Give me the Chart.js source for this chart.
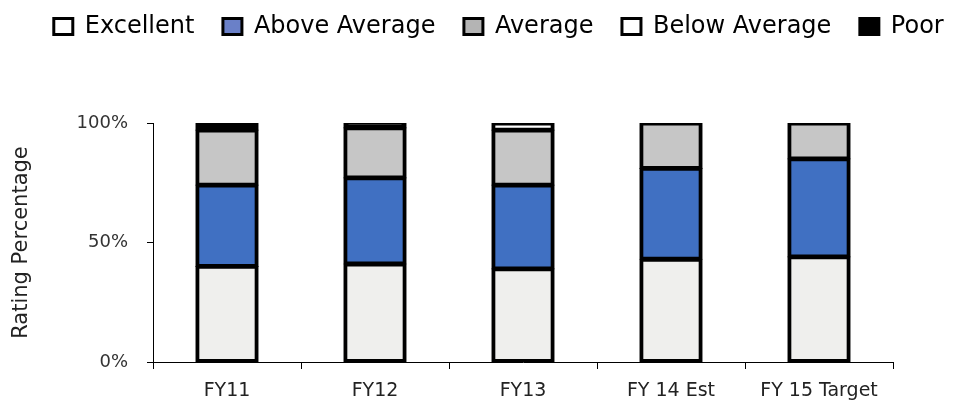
<!DOCTYPE html>
<html><head><meta charset="utf-8">
<script src="https://cdn.jsdelivr.net/npm/chart.js@4/dist/chart.umd.min.js"></script>
<style>html,body{margin:0;padding:0;background:#fff}#wrap{width:953px;height:408px}</style>
</head><body><div id="wrap"><canvas id="c" width="953" height="408"></canvas></div>
<script>
const categories = ["FY11", "FY12", "FY13", "FY 14 Est", "FY 15 Target"];
const excellent = [40, 41, 39, 43, 44];
const aboveAverage = [34, 36, 35, 38, 41];
const average = [23, 21, 23, 19, 15];
const belowAverage = [null, null, 3, null, null];
const poor = [3, 2, null, null, null];
const yTicks = [0, 50, 100];

const FONT = "'DejaVu Sans', sans-serif";
function ds(label, data, color) {
  return { label, data, backgroundColor: color, borderColor: "#000",
           borderWidth: { top: 3, bottom: 3, left: 4, right: 4 }, inflateAmount: 0.6,
           borderSkipped: false, barPercentage: 0.84, categoryPercentage: 0.5 };
}
const legendTweak = {
  id: "legendTweak",
  beforeLayout(chart) {
    const lg = chart.legend;
    if (lg && !lg._patched) {
      const orig = lg.fit;
      lg.fit = function () {
        const mw = this.maxWidth;
        this.maxWidth = 3000;
        orig.call(this);
        this.maxWidth = mw;
        this.width = mw;
        this.height = 123;
      };
      lg._patched = true;
    }
  },
  afterLayout(chart) {
    const lg = chart.legend;
    lg.left = 7.5; lg.right = 990; lg.top = -14;
  }
};
new Chart(document.getElementById("c"), {
  type: "bar",
  data: {
    labels: categories,
    datasets: [
      ds("Excellent", excellent, "#efefed"),
      ds("Above Average", aboveAverage, "#4070c2"),
      ds("Average", average, "#c6c6c6"),
      ds("Below Average", belowAverage, "#ffffff"),
      ds("Poor", poor, "#000000")
    ]
  },
  plugins: [legendTweak],
  options: {
    responsive: false, animation: false,
    layout: { padding: { left: 0, right: 60, top: 0, bottom: 0 } },
    plugins: {
      tooltip: { enabled: false },
      legend: {
        position: "top",
        labels: {
          font: { family: FONT, size: 24 }, color: "#000",
          boxWidth: 19, boxHeight: 16, padding: 28.5,
          generateLabels(chart) {
            const fills = ["#ffffff", "#6a80c8", "#b4b4b4", "#ffffff", "#000000"];
            return chart.data.datasets.map((d, i) => ({
              text: d.label, fillStyle: fills[i], strokeStyle: "#000",
              lineWidth: 3, hidden: false, datasetIndex: i, fontColor: "#000"
            }));
          }
        }
      }
    },
    scales: {
      x: {
        stacked: true,
        afterFit(scale) { scale.height = 46; },
        border: { display: true, color: "#000", width: 1 },
        grid: { display: true, drawOnChartArea: false, drawTicks: true, tickLength: 7, color: "#000", offset: true },
        ticks: { font: { family: FONT, size: 19 }, color: "#222", padding: 11 }
      },
      y: {
        stacked: true, min: 0, max: 100,
        afterFit(scale) { scale.width = 153; },
        afterBuildTicks(scale) { scale.ticks = yTicks.map(v => ({ value: v })); },
        border: { display: true, color: "#000", width: 1 },
        grid: { display: true, drawOnChartArea: false, drawTicks: true, tickLength: 6, color: "#000" },
        ticks: { font: { family: FONT, size: 18 }, color: "#333", padding: 19, callback: v => v + "%" },
        title: { display: true, text: "Rating Percentage", font: { family: FONT, size: 21 }, color: "#222", padding: { top: 9, bottom: 0 } }
      }
    }
  }
});
</script></body></html>
